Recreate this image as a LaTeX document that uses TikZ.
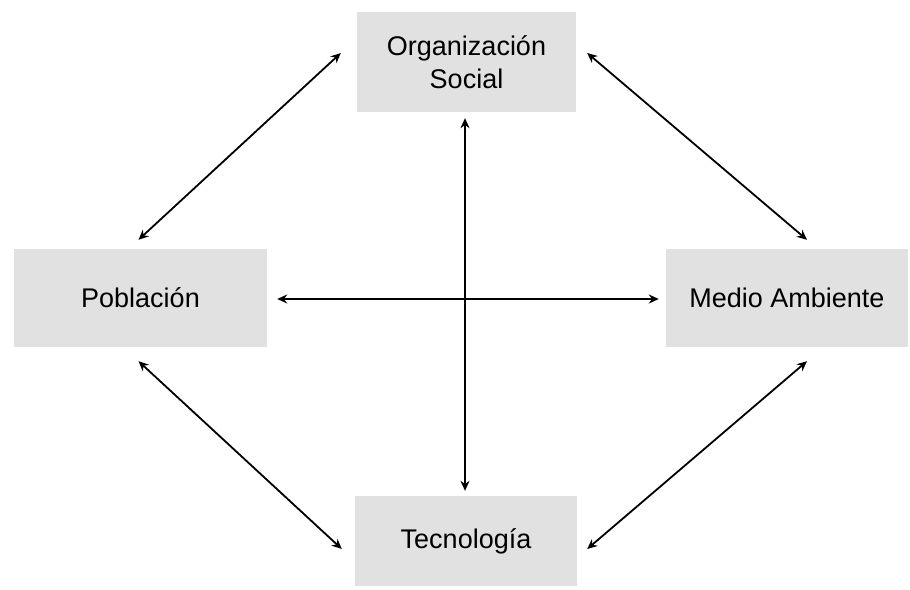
\documentclass[tikz,border=0pt]{standalone}
\usepackage{fontspec}
\setmainfont{Liberation Sans}
\usetikzlibrary{arrows.meta}

\tikzset{
  factor/.style={fill=boxgray, inner sep=0pt, align=center,
    font=\fontsize{27}{33}\selectfont},
  link/.style={{Stealth[length=10pt,width=9pt]}-{Stealth[length=10pt,width=9pt]},
    line width=1.8pt, black},
}
\definecolor{boxgray}{HTML}{E1E1E1}

\begin{document}
\begin{tikzpicture}[x=1pt,y=-1pt]
\useasboundingbox (0,0) rectangle (910,589);
\node[style=factor, minimum width=219pt, minimum height=100pt](org) at (466.5,62){Organización\\Social};
\node[style=factor, minimum width=253pt, minimum height=98pt](pob) at (140.5,298){Población};
\node[style=factor, minimum width=242pt, minimum height=98pt](med) at (787,298){Medio Ambiente};
\node[style=factor, minimum width=222pt, minimum height=90pt](tec) at (466,541){Tecnología};
\draw[style=link] ([xshift=-2pt,yshift=9pt]pob.north) -- ([xshift=-16pt,yshift=9pt]org.west);
\draw[style=link] ([xshift=11pt,yshift=9pt]org.east) -- ([xshift=20pt,yshift=9pt]med.north);
\draw[style=link] ([xshift=-2pt,yshift=-14pt]pob.south) -- ([xshift=-13pt,yshift=-8pt]tec.west);
\draw[style=link] ([xshift=20pt,yshift=-14pt]med.south) -- ([xshift=10pt,yshift=-8pt]tec.east);
\draw[style=link] ([xshift=10pt,yshift=-1pt]pob.east) -- ([xshift=-7pt,yshift=-1pt]med.west);
\draw[style=link, line width=1.2pt] ([xshift=-1.5pt,yshift=-6pt]org.south) -- ([xshift=-1pt,yshift=5pt]tec.north);
\end{tikzpicture}
\end{document}
